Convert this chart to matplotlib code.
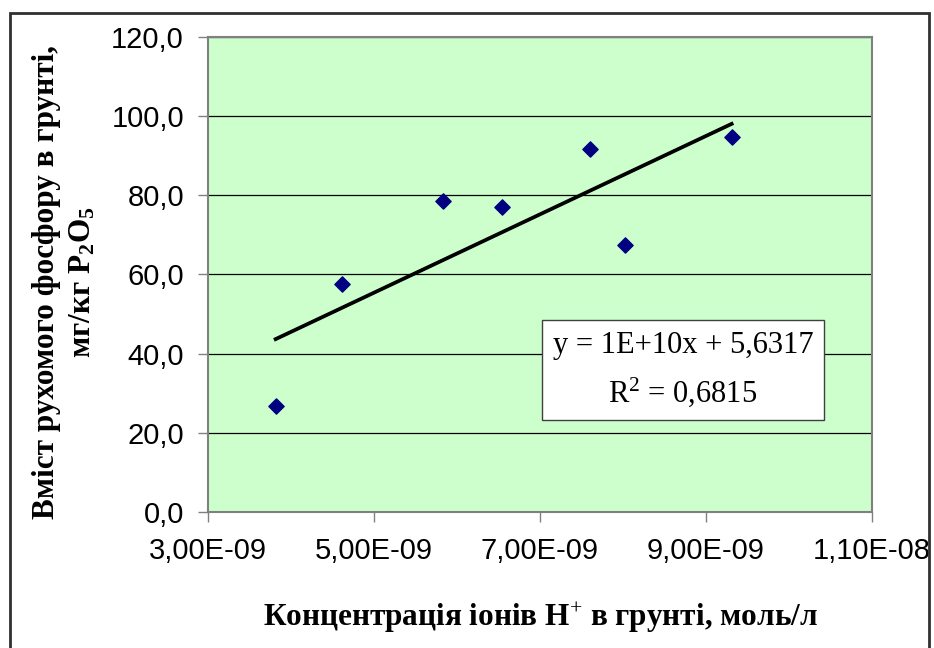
import numpy as np
import matplotlib.pyplot as plt
from matplotlib.patches import Rectangle
from matplotlib.ticker import FuncFormatter

# concentration of H+ ions, mol/l
h_conc = [3.82e-9, 4.62e-9, 5.84e-9, 6.54e-9, 7.60e-9, 8.03e-9, 9.31e-9]
# mobile phosphorus, mg/kg P2O5
phosphorus = [26.8, 57.5, 78.6, 77.1, 91.7, 67.5, 94.8]

eq_text = "y = 1E+10x + 5,6317"
r2_text = "R$^2$ = 0,6815"
xlabel = "Концентрація іонів H$^{+}$ в грунті, моль/л"
ylabel = "Вміст рухомого фосфору в грунті,\nмг/кг P$_\\mathbf{2}$O$_\\mathbf{5}$"

plt.rcParams['mathtext.fontset'] = 'custom'
plt.rcParams['mathtext.rm'] = 'Liberation Serif'
plt.rcParams['mathtext.it'] = 'Liberation Serif'
plt.rcParams['mathtext.bf'] = 'Liberation Serif:bold'

fig = plt.figure(figsize=(9.34, 6.48), dpi=100)
ax = fig.add_axes([0.2222, 0.2094, 0.7114, 0.734])
ax.set_facecolor('#CCFFCC')

x = np.array(h_conc)
y = np.array(phosphorus)
k, b = np.polyfit(x, y, 1)
xs = np.array([x.min(), x.max()])
ax.plot(xs, k * xs + b, color='black', lw=2.7, zorder=3)
ax.scatter(x, y, marker='D', s=60, color='#000080', zorder=4)

ax.set_xlim(3e-9, 1.1e-8)
ax.set_ylim(0, 120)
ax.set_xticks(np.arange(3e-9, 1.15e-8, 2e-9))
ax.set_yticks(np.arange(0, 121, 20))
ax.xaxis.set_major_formatter(FuncFormatter(lambda v, p: ("%.2E" % v).replace('.', ',')))
ax.yaxis.set_major_formatter(FuncFormatter(lambda v, p: ("%.1f" % v).replace('.', ',')))
ax.grid(axis='y', color='black', lw=0.9)
ax.set_axisbelow(True)
for s in ax.spines.values():
    s.set_color('#808080')
    s.set_linewidth(1.5)
ax.tick_params(direction='out', length=7, width=1, color='#808080',
               labelsize=21, pad=10)
for lab in ax.get_xticklabels() + ax.get_yticklabels():
    lab.set_fontfamily('Liberation Sans')
ax.tick_params(axis='x', pad=11)

# equation box
ax.text(0.7156, 0.299, eq_text + "\n" + r2_text, transform=ax.transAxes,
        ha='center', va='center', fontsize=22, family='Liberation Serif',
        linespacing=1.6,
        bbox=dict(boxstyle='square,pad=0.35', fc='white', ec='#404040', lw=1))

fig.text(0.579, 0.047, xlabel,
         ha='center', va='center', fontsize=22.5, fontweight='bold',
         family='Liberation Serif')
fig.text(0.069, 0.565, ylabel, rotation=90, ha='center', va='center',
         fontsize=22.5, fontweight='bold', family='Liberation Serif',
         multialignment='center', linespacing=1.3)

fig.patches.append(Rectangle((10 / 934, -0.01), 919 / 934, 1 - 13 / 648 + 0.01,
                             transform=fig.transFigure, fill=False,
                             ec='#303030', lw=2))

fig.savefig('out.png', dpi=100)
